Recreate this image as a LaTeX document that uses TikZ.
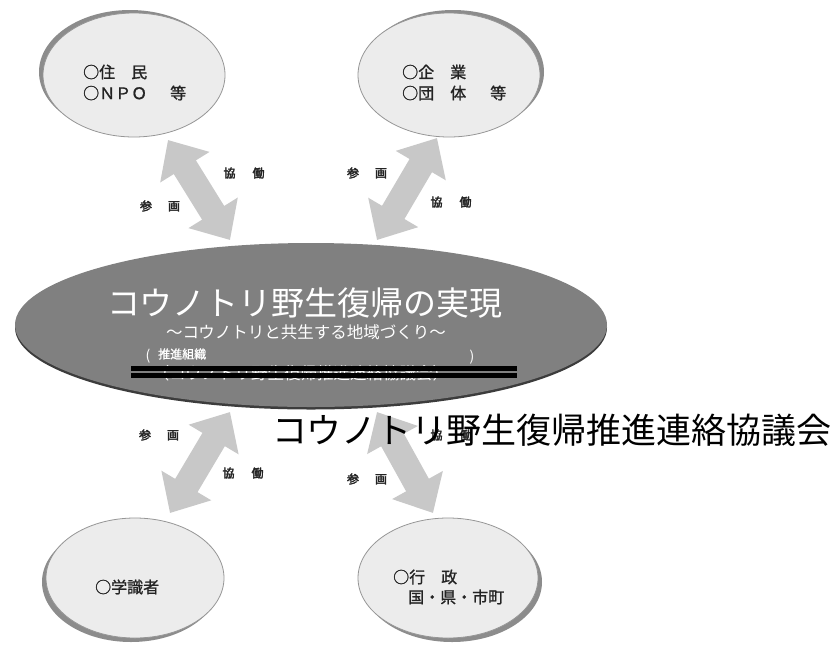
\documentclass[tikz,border=0pt]{standalone}
\usepackage{fontspec}
\newfontfamily\jp{Noto Sans CJK JP}
\newfontfamily\jpb{Noto Sans CJK JP}[FakeBold=1.2]
\newfontfamily\jpbb{Noto Sans CJK JP}[FakeBold=2.5]
\usetikzlibrary{shapes.geometric,arrows.meta,calc}
\definecolor{arrowc}{RGB}{200,200,200}
\definecolor{ellfill}{RGB}{236,236,236}
\definecolor{ellline}{RGB}{150,150,150}
\definecolor{ellshadow}{RGB}{140,140,140}
\definecolor{bigfill}{RGB}{128,128,128}
\definecolor{bigshadow}{RGB}{60,60,60}
\definecolor{labelc}{RGB}{35,35,35}
\begin{document}
\begin{tikzpicture}[x=1pt,y=-1pt,
  fatarrow/.style={draw=arrowc, line width=26pt,
    {Triangle[width=56pt,length=32pt]}-{Triangle[width=56pt,length=32pt]}},
  smallell/.style={ellipse, draw=ellline, fill=ellfill, line width=0.8pt,
    inner sep=0pt, minimum width=182pt, minimum height=124pt},
  elltext/.style={anchor=west, inner sep=0pt, text=labelc,
    font=\jpb\fontsize{16}{19}\selectfont},
  relabel/.style={inner sep=0pt, text=labelc,
    font=\jpbb\fontsize{12}{14}\selectfont},
  strike/.style={draw=black, line width=4.5pt},
]
\fill[white] (0,0) rectangle (840,646);
\useasboundingbox (0,0) rectangle (840,646);

% arrow end points
\coordinate (tlA) at (168,140); \coordinate (tlB) at (230,240);
\coordinate (trA) at (437,138); \coordinate (trB) at (377,240);
\coordinate (blA) at (230,412); \coordinate (blB) at (170,513);
\coordinate (brA) at (377,412); \coordinate (brB) at (433,513);
\draw[fatarrow] (tlA) -- (tlB);
\draw[fatarrow] (trA) -- (trB);
\draw[fatarrow] (blA) -- (blB);
\draw[fatarrow] (brA) -- (brB);

% small ellipses with shadows
\fill[ellshadow] (130,72) ellipse [x radius=91pt, y radius=62pt];
\node[smallell] (tl) at (134,75) {};
\fill[ellshadow] (453,72) ellipse [x radius=91pt, y radius=62pt];
\node[smallell] (tr) at (449,75) {};
\fill[ellshadow] (131,582) ellipse [x radius=89pt, y radius=60pt];
\node[smallell, minimum width=178pt, minimum height=120pt] (bl) at (135,578) {};
\fill[ellshadow] (452,582) ellipse [x radius=90pt, y radius=60pt];
\node[smallell, minimum width=180pt, minimum height=120pt] (br) at (448,578) {};

% ellipse texts
\node[elltext] (tl1) at (83,72) {○住\hspace{16pt}民};
\node[elltext] (tl2) at (83,93) {○ＮＰＯ\hspace{23pt}等};
\node[elltext] (tr1) at (402,72) {○企\hspace{16pt}業};
\node[elltext] (tr2) at (402,93) {○団\hspace{16pt}体\hspace{24pt}等};
\node[elltext] (bl1) at (95,587) {○学識者};
\node[elltext] (br1) at (393,577) {○行\hspace{16pt}政};
\node[elltext] (br2) at (408,597) {国・県・市町};

% central ellipse
\fill[bigshadow] (311,327.5) ellipse [x radius=296pt, y radius=82pt];
\node[ellipse, fill=bigfill, inner sep=0pt, minimum width=592pt, minimum height=164pt] (center) at (311,325) {};
\node[inner sep=0pt, text=white, font=\jp\fontsize{33}{40}\selectfont] (title) at (305,303) {コウノトリ野生復帰の実現};
\node[inner sep=0pt, text=white, font=\jp\fontsize{16.5}{20}\selectfont] (sub) at (306,332) {〜コウノトリと共生する地域づくり〜};
\node[inner sep=0pt, text=white, font=\jp\fontsize{14}{16}\selectfont] (lp) at (148,356) {(};
\node[inner sep=0pt, text=white, anchor=west, font=\jpb\fontsize{12}{14}\selectfont] (org) at (158,354) {推進組織};
\node[inner sep=0pt, text=white, font=\jp\fontsize{14}{16}\selectfont] (rp) at (472,357) {)};
\node[inner sep=0pt, text=white, font=\jp\fontsize{16.5}{20}\selectfont] (oldname) at (301,373.5) {（コウノトリ野生復帰推進連絡協議会）};
\coordinate (s1a) at (131,368.3); \coordinate (s1b) at (517,368.3);
\coordinate (s2a) at (131,375.7); \coordinate (s2b) at (517,375.7);
\draw[strike] (s1a) -- (s1b);
\draw[strike] (s2a) -- (s2b);

% arrow labels
\node[relabel] (k1) at (244,173) {協\hspace{17pt}働};
\node[relabel] (p1) at (160,206) {参\hspace{16pt}画};
\node[relabel] (p2) at (367,173) {参\hspace{16pt}画};
\node[relabel] (k2) at (451,202) {協\hspace{17pt}働};
\node[relabel] (p3) at (159,435) {参\hspace{16pt}画};
\node[relabel] (k3) at (243,473) {協\hspace{17pt}働};
\node[relabel] (p4) at (367,479) {参\hspace{16pt}画};
\node[relabel] (k4) at (451,435) {協\hspace{17pt}働};

% overlaid new name
\node[inner sep=0pt, text=black, font=\jp\fontsize{35}{42}\selectfont] (newname) at (552,430) {コウノトリ野生復帰推進連絡協議会};
\end{tikzpicture}
\end{document}
